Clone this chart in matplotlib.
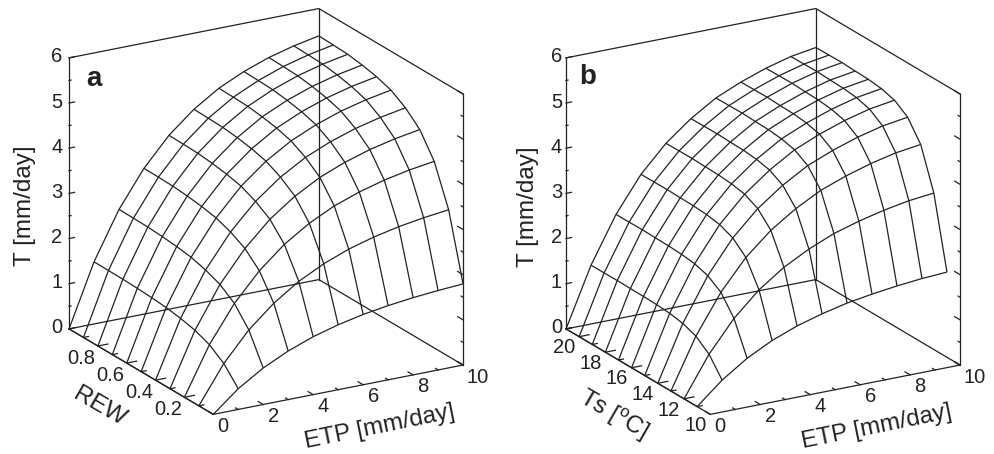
import numpy as np
import matplotlib
matplotlib.use("Agg")
import matplotlib.pyplot as plt
from mpl_toolkits.mplot3d import proj3d

plt.rcParams['font.family'] = ['Liberation Sans', 'DejaVu Sans']
plt.rcParams['mathtext.default'] = 'regular'

W, H = 995, 454
INK = '#222222'

etp = [0, 1, 2, 3, 4, 5, 6, 7, 8, 9, 10]
rew = [0.0, 0.1, 0.2, 0.3, 0.4, 0.5, 0.6, 0.7, 0.8, 0.9, 1.0]
ts = [10, 11, 12, 13, 14, 15, 16, 17, 18, 19, 20]

# rows: REW 0 -> 1, columns: ETP 0 -> 10
t_rew = [
    [0, 0.458, 0.808, 1.075, 1.282, 1.437, 1.556, 1.643, 1.710, 1.759, 1.796],
    [0, 0.828, 1.461, 1.943, 2.317, 2.598, 2.813, 2.970, 3.091, 3.180, 3.248],
    [0, 1.054, 1.859, 2.472, 2.948, 3.306, 3.580, 3.779, 3.933, 4.047, 4.131],
    [0, 1.185, 2.090, 2.778, 3.314, 3.716, 4.023, 4.247, 4.420, 4.549, 4.645],
    [0, 1.259, 2.221, 2.953, 3.522, 3.949, 4.276, 4.514, 4.698, 4.834, 4.938],
    [0, 1.311, 2.313, 3.075, 3.668, 4.113, 4.453, 4.701, 4.893, 5.035, 5.140],
    [0, 1.339, 2.361, 3.140, 3.745, 4.199, 4.547, 4.800, 4.995, 5.140, 5.248],
    [0, 1.357, 2.393, 3.182, 3.795, 4.256, 4.608, 4.864, 5.062, 5.209, 5.317],
    [0, 1.369, 2.415, 3.211, 3.830, 4.294, 4.650, 4.908, 5.108, 5.257, 5.366],
    [0, 1.373, 2.422, 3.221, 3.841, 4.307, 4.664, 4.923, 5.124, 5.272, 5.383],
    [0, 1.376, 2.427, 3.227, 3.849, 4.316, 4.673, 4.933, 5.134, 5.283, 5.395],
]

# rows: Ts 10 -> 20, columns: ETP 0 -> 10
t_ts = [
    [0, 0.478, 0.850, 1.135, 1.348, 1.508, 1.636, 1.725, 1.797, 1.852, 1.885],
    [0, 0.878, 1.561, 2.085, 2.475, 2.769, 3.004, 3.168, 3.301, 3.402, 3.463],
    [0, 1.107, 1.969, 2.630, 3.121, 3.493, 3.788, 3.995, 4.162, 4.290, 4.366],
    [0, 1.216, 2.163, 2.890, 3.430, 3.838, 4.163, 4.390, 4.574, 4.714, 4.798],
    [0, 1.268, 2.256, 3.014, 3.577, 4.002, 4.341, 4.578, 4.770, 4.916, 5.003],
    [0, 1.289, 2.293, 3.063, 3.635, 4.068, 4.412, 4.653, 4.848, 4.997, 5.086],
    [0, 1.298, 2.309, 3.085, 3.661, 4.097, 4.444, 4.686, 4.882, 5.032, 5.122],
    [0, 1.301, 2.314, 3.091, 3.668, 4.105, 4.453, 4.695, 4.892, 5.042, 5.132],
    [0, 1.305, 2.321, 3.100, 3.679, 4.117, 4.466, 4.709, 4.907, 5.057, 5.147],
    [0, 1.303, 2.318, 3.097, 3.676, 4.113, 4.461, 4.705, 4.902, 5.052, 5.142],
    [0, 1.302, 2.316, 3.094, 3.672, 4.109, 4.457, 4.700, 4.897, 5.047, 5.137],
]

etp_major = [0, 2, 4, 6, 8, 10]
etp_minor = [1, 3, 5, 7, 9]
t_major = [0, 1, 2, 3, 4, 5, 6]
t_minor = [0.5, 1.5, 2.5, 3.5, 4.5, 5.5]

rew_labels = [0.2, 0.4, 0.6, 0.8]
rew_long = [0.2, 0.4, 0.6, 0.8]
rew_short = [0.1, 0.3, 0.5, 0.7, 0.9]
ts_labels = [10, 12, 14, 16, 18, 20]
ts_long = [11, 13, 15, 17, 19]
ts_short = [10, 12, 14, 16, 18, 20]


def put(ax, x, y, z, s, dx, dy, size=14.5, rot=0):
    px, py, _ = proj3d.proj_transform(x, y, z, ax.get_proj())
    ax.annotate(s, xy=(px, py), xytext=(dx, dy), textcoords='offset pixels',
                ha='center', va='center', fontsize=size, color=INK,
                rotation=rot, annotation_clip=False)


def panel(left, ylim, ys, surface, y_long, y_short, y_labels, y_fmt, y_off, t_dx):
    ax = fig.add_axes([left / W, -6.5 / H, 485 / W, 485 / H], projection='3d',
                      proj_type='ortho')
    ax.set_xlim(0, 10)
    ax.set_ylim(*ylim)
    ax.set_zlim(0, 6)
    ax.set_box_aspect((1, 1, 1))
    ax.view_init(elev=20, azim=-120)
    ax.set_axis_off()
    ax.patch.set_alpha(0)

    y0, y1 = ylim
    span = y1 - y0
    line = dict(color=INK, lw=0.9)

    X, Y = np.meshgrid(etp, ys)
    ax.plot_wireframe(X, Y, np.array(surface), rstride=1, cstride=1, **line)

    # box edges
    ax.plot([0, 10, 10, 0, 0], [y1, y1, y0, y0, y1], [0, 0, 0, 0, 0], **line)
    ax.plot([0, 10, 10], [y1, y1, y0], [6, 6, 6], **line)
    ax.plot([0, 0], [y1, y1], [0, 6], **line)
    ax.plot([10, 10], [y1, y1], [0, 6], **line)
    ax.plot([10, 10], [y0, y0], [0, 6], **line)

    # T ticks, both upright edges
    for v, n in [(t_major, 0.022), (t_minor, 0.008)]:
        for z in v:
            ax.plot([0, 10 * n], [y1, y1], [z, z], **line)
            ax.plot([10, 10], [y0, y0 + span * n * 1.7], [z, z], **line)
    # ETP ticks on the floor
    for v, n in [(etp_major, 0.035), (etp_minor, 0.018)]:
        for x in v:
            ax.plot([x, x], [y0, y0 + span * n], [0, 0], **line)
    # second axis ticks on the floor
    for v, n in [(y_long, 0.4), (y_short, 0.2)]:
        for y in v:
            ax.plot([0, n], [y, y], [0, 0], **line)

    for z in t_major:
        put(ax, 0, y1, z, str(z), t_dx, 1)
    for x in etp_major:
        put(ax, x, y0, 0, str(x), 15 if x == 10 else 10, -12)
    for y in y_labels:
        put(ax, 0, y, 0, y_fmt(y), *y_off)
    return ax


fig = plt.figure(figsize=(W / 100, H / 100), dpi=100)

panel(17, (0, 1), rew, t_rew, rew_long, rew_short, rew_labels,
      lambda v: f"{v:.1f}", (-16.5, -12), -12)
panel(514, (9, 20), ts, t_ts, ts_long, ts_short, ts_labels,
      lambda v: str(v), (-2, -19), -9.5)

labels = [
    (25, 206, "T [mm/day]", 90, 17.5, 'normal'),
    (380, 427, "ETP [mm/day]", 11.5, 17.5, 'normal'),
    (99, 407, "REW", -30, 17.5, 'normal'),
    (94, 79, "a", 0, 20, 'bold'),
    (528, 207, "T [mm/day]", 90, 17.5, 'normal'),
    (877, 427, "ETP [mm/day]", 11.5, 17.5, 'normal'),
    (613, 415, "Ts [$^{o}$C]", -30, 17.5, 'normal'),
    (588, 77, "b", 0, 20, 'bold'),
]
for x, y, s, rot, size, weight in labels:
    fig.text(x / W, 1 - y / H, s, rotation=rot, fontsize=size, fontweight=weight,
             color=INK, ha='center', va='center')

fig.savefig("out.png", dpi=100)
